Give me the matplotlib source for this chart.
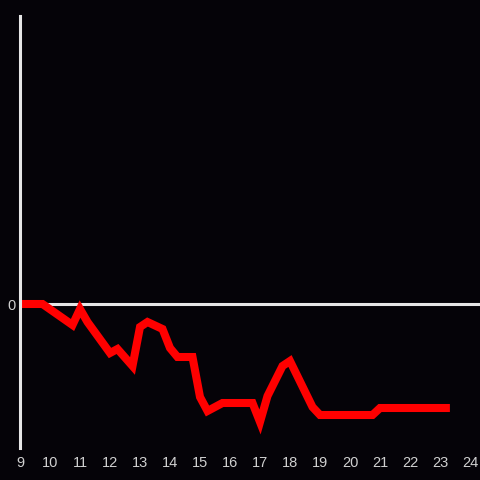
import matplotlib
matplotlib.use("Agg")
import matplotlib.pyplot as plt

hours = [9, 9.75, 10.75, 11, 11.25, 12, 12.25, 12.75, 13, 13.25, 13.75, 14, 14.25,
         14.75, 15, 15.25, 15.75, 16.75, 17, 17.25, 17.75, 18, 18.75, 19, 20.75, 21, 23.33]
values = [0, 0, -21, -5, -18, -49, -45, -62, -23, -18, -25, -44, -53,
          -53, -93, -107, -99, -99, -118, -92, -62, -57, -103, -111, -111, -104, -104]
xticks = list(range(9, 25))
yticks = [0]

bg = '#050308'
fig = plt.figure(figsize=(4.8, 4.8), dpi=100, facecolor=bg)
ax = fig.add_axes([20/480, 32/480, 460/480, 432/480], facecolor=bg)
ax.set_xlim(9, 9 + 460/30)
ax.set_ylim(-144, 288)

ax.axhline(0, color='#e6e6e6', lw=2.2, zorder=1)
ax.plot(hours, values, color='#ff0000', lw=5.8, solid_joinstyle='miter',
        solid_capstyle='butt', zorder=2)

for s in ['top', 'right', 'bottom']:
    ax.spines[s].set_visible(False)
ax.spines['left'].set_color('#e6e6e6')
ax.spines['left'].set_linewidth(2.2)

ax.set_xticks(xticks)
ax.set_xticklabels([str(t) for t in xticks])
ax.set_yticks(yticks)
ax.set_yticklabels(['0'])
ax.tick_params(axis='both', length=0, colors='#d0d0d0', labelsize=10.5)
ax.tick_params(axis='x', pad=6)
ax.tick_params(axis='y', pad=3)
for lab in ax.get_xticklabels() + ax.get_yticklabels():
    lab.set_family('Liberation Sans')

fig.savefig('out.png', dpi=100, facecolor=bg)
